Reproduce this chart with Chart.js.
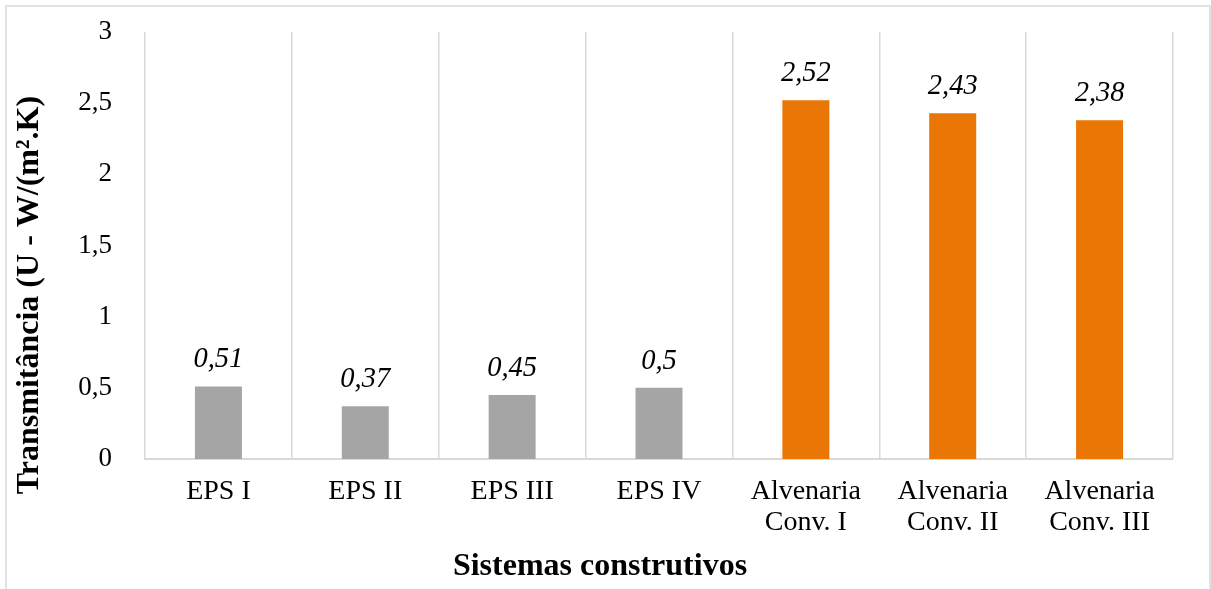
<!DOCTYPE html>
<html>
<head>
<meta charset="utf-8">
<script src="https://cdn.jsdelivr.net/npm/chart.js@4.4.1/dist/chart.umd.min.js"></script>
<style>
  html, body { margin: 0; padding: 0; background: #ffffff; }
  #wrap { width: 1211px; height: 589px; position: relative; }
</style>
</head>
<body>
<div id="wrap"><canvas id="chart"></canvas></div>
<script>
// Thermal transmittance (U) of each construction system
const categories = [
  'EPS I', 'EPS II', 'EPS III', 'EPS IV',
  ['Alvenaria', 'Conv. I'], ['Alvenaria', 'Conv. II'], ['Alvenaria', 'Conv. III']
];
const uValues = [0.51, 0.37, 0.45, 0.5, 2.52, 2.43, 2.38];
const barColors = ['#A5A5A5', '#A5A5A5', '#A5A5A5', '#A5A5A5', '#EA7605', '#EA7605', '#EA7605'];
const yTicks = [0, 0.5, 1, 1.5, 2, 2.5, 3];

const chartTitle = 'Gráfico 5 – Transmitância térmica dos sistemas analisados';
const yTitle = 'Transmitância (U - W/(m².K)';
const xTitle = 'Sistemas construtivos';

const SERIF = '"Liberation Serif", "Times New Roman", serif';
const GRID = '#D9D9D9';

const fmt = v => String(v).replace('.', ',');

// Frame, cut-off caption, axis titles and italic value labels
const decorations = {
  id: 'decorations',
  beforeDraw(chart) {
    const ctx = chart.ctx;
    ctx.save();
    ctx.fillStyle = '#ffffff';
    ctx.fillRect(0, 0, chart.width, chart.height);
    ctx.strokeStyle = GRID;
    ctx.lineWidth = 1.5;
    ctx.strokeRect(6, 6, 1204, 640);
    ctx.restore();
  },
  afterDraw(chart) {
    const ctx = chart.ctx;
    ctx.save();
    ctx.fillStyle = '#000000';
    // caption above the frame, almost entirely outside the page
    ctx.font = 'bold 27.5px ' + SERIF;
    ctx.textAlign = 'center';
    ctx.textBaseline = 'alphabetic';
    ctx.fillText(chartTitle, 612, -0.5);

    // x axis title
    ctx.font = 'bold 32px ' + SERIF;
    ctx.textBaseline = 'middle';
    ctx.fillText(xTitle, 600, 567);

    // y axis title (rotated)
    ctx.save();
    ctx.translate(30, 295);
    ctx.rotate(-Math.PI / 2);
    ctx.fillText(yTitle, 0, 0);
    ctx.restore();

    // value labels
    ctx.font = 'italic 28.5px ' + SERIF;
    ctx.textBaseline = 'alphabetic';
    const meta = chart.getDatasetMeta(0);
    meta.data.forEach((bar, i) => {
      ctx.fillText(fmt(uValues[i]), bar.x, bar.y - 19);
    });
    ctx.restore();
  }
};

new Chart(document.getElementById('chart'), {
  type: 'bar',
  data: {
    labels: categories,
    datasets: [{
      data: uValues,
      backgroundColor: barColors,
      borderWidth: 0,
      categoryPercentage: 1,
      barPercentage: 0.32
    }]
  },
  options: {
    responsive: true,
    maintainAspectRatio: false,
    animation: false,
    devicePixelRatio: 1,
    layout: { padding: { left: 0, right: 38, top: 32, bottom: 0 } },
    plugins: {
      legend: { display: false },
      tooltip: { enabled: false },
      title: { display: false }
    },
    scales: {
      x: {
        type: 'category',
        offset: true,
        grid: { display: true, offset: true, color: GRID, lineWidth: 1.5, drawTicks: false },
        border: { display: true, color: GRID, width: 2 },
        ticks: {
          color: '#000000',
          font: { family: SERIF, size: 28, lineHeight: 1.12 },
          padding: 17,
          maxRotation: 0,
          autoSkip: false
        },
        afterFit(scale) { scale.height = 130; }
      },
      y: {
        min: 0,
        max: 3,
        grid: { display: false, drawTicks: false },
        border: { display: false },
        afterBuildTicks(scale) { scale.ticks = yTicks.map(v => ({ value: v })); },
        ticks: {
          color: '#000000',
          font: { family: SERIF, size: 27 },
          padding: 33,
          callback: v => fmt(v)
        },
        afterFit(scale) {
          scale.width = 145;
          scale.paddingTop = 0;
          scale.paddingBottom = 0;
        }
      }
    }
  },
  plugins: [decorations]
});
</script>
</body>
</html>
